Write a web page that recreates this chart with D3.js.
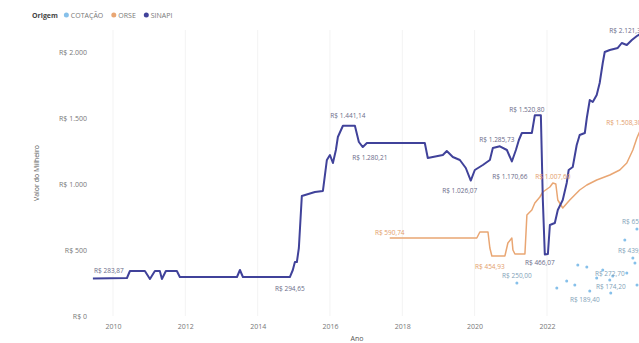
<!DOCTYPE html>
<html><head><meta charset="utf-8">
<script src="https://cdn.jsdelivr.net/npm/d3@7"></script>
<style>body{margin:0;background:#fff}svg{display:block;font-family:"Open Sans","Segoe UI",sans-serif}</style>
</head><body>
<svg id="c" width="639" height="343"></svg>
<script>
// ---------- DATA ----------
const seriesNames = ["COTAÇÃO", "ORSE", "SINAPI"];
const xTickYears = [2010, 2012, 2014, 2016, 2018, 2020, 2022];
const yTicks = [0, 500, 1000, 1500, 2000];

const sinapiDates = ["2009-06-12","2010-05-22","2010-06-21","2010-11-19","2011-01-09","2011-02-28","2011-04-19","2011-05-10","2011-06-19","2011-10-08","2011-11-07","2013-06-06","2013-07-06","2013-08-05","2014-11-22","2014-12-22","2015-01-12","2015-02-01","2015-02-21","2015-03-23","2015-08-02","2015-10-22","2015-12-01","2016-01-01","2016-01-31","2016-03-01","2016-03-21","2016-05-11","2016-09-09","2016-10-19","2016-11-28","2017-01-08","2018-08-16","2018-09-15","2019-02-14","2019-03-26","2019-05-26","2019-08-05","2019-10-04","2019-11-23","2020-01-03","2020-03-24","2020-06-03","2020-07-03","2020-09-12","2020-11-22","2021-01-11","2021-02-21","2021-03-23","2021-04-22","2021-08-01","2021-08-31","2021-10-31","2021-11-20","2021-12-10","2022-01-10","2022-01-30","2022-03-21","2022-04-20","2022-06-09","2022-07-19","2022-08-08","2022-09-18","2022-10-28","2022-11-27","2023-01-18","2023-02-07","2023-03-09","2023-04-08","2023-05-18","2023-06-17","2023-07-18","2023-08-07","2023-09-27","2023-12-17","2024-01-26","2024-03-17","2024-05-07","2024-06-27","2024-08-16"];
const sinapiValues = [283.87,287.9,340.9,340.9,280.3,340.9,340.9,280.3,340.9,340.9,295.5,295.5,348.5,295.5,294.65,348.5,409.1,409.1,515.2,909.1,939.4,947.0,1181.9,1219.7,1159.1,1257.6,1356.1,1441.14,1441.14,1318.2,1280.21,1310.6,1310.6,1197.0,1219.7,1250.0,1204.6,1181.9,1121.2,1026.07,1106.1,1143.9,1181.9,1272.8,1285.73,1257.6,1170.66,1257.6,1333.4,1386.4,1386.4,1520.80,1520.80,878.8,466.07,469.7,689.4,704.6,803.1,878.8,1007.6,1106.1,1128.8,1295.5,1371.3,1386.4,1500.0,1636.4,1621.3,1674.3,1765.2,1916.7,2000.1,2015.2,2030.4,2068.2,2053.1,2091.0,2121.3,2144.0];

const orseDates = ["2017-08-27","2020-01-23","2020-02-23","2020-05-15","2020-06-03","2020-06-23","2020-11-02","2020-12-02","2021-01-11","2021-01-22","2021-02-11","2021-05-23","2021-06-12","2021-08-01","2021-08-31","2021-10-21","2021-11-20","2022-01-30","2022-03-01","2022-03-31","2022-04-20","2022-06-09","2022-08-19","2022-11-27","2023-02-07","2023-05-18","2023-09-27","2024-01-06","2024-03-17","2024-05-17","2024-06-27","2024-09-26"];
const orseValues = [590.74,590.74,636.4,636.4,515.2,454.93,454.93,553.0,590.9,500.0,469.7,469.7,765.2,803.0,856.1,901.5,939.4,977.3,1007.6,1000.0,878.8,818.2,878.8,954.5,992.4,1030.3,1068.2,1106.1,1159.1,1257.6,1348.5,1508.3];

const cotacaoDates = ["2021-03-03","2022-04-10","2022-07-19","2022-10-09","2022-11-08","2023-02-07","2023-03-09","2023-05-18","2023-07-18","2023-09-27","2023-10-07","2023-10-27","2024-02-26","2024-03-17","2024-05-17","2024-06-07","2024-06-27","2024-06-28"];
const cotacaoValues = [250.0,212.1,265.2,234.8,386.4,371.2,189.4,287.9,348.5,272.7,174.2,303.0,575.8,325.8,439.4,401.5,659.1,234.8];

// data labels: which points carry a value label (and offset of the label)
const labelSpecs = [
  {s:"SINAPI", d:"2009-06-12", dx:16, dy:-8},
  {s:"SINAPI", d:"2014-11-22", dx:0, dy:11},
  {s:"SINAPI", d:"2016-05-11", dx:5, dy:-10},
  {s:"SINAPI", d:"2016-11-28", dx:7, dy:10},
  {s:"SINAPI", d:"2019-11-23", dx:-11, dy:10},
  {s:"SINAPI", d:"2020-09-12", dx:-3, dy:-7},
  {s:"SINAPI", d:"2021-01-11", dx:-2, dy:15},
  {s:"SINAPI", d:"2021-08-31", dx:-8, dy:-6},
  {s:"SINAPI", d:"2021-12-10", dx:-5, dy:8},
  {s:"SINAPI", d:"2024-06-27", dx:-10, dy:-5},
  {s:"ORSE", d:"2017-08-27", dx:0, dy:-6},
  {s:"ORSE", d:"2020-06-23", dx:-2, dy:11},
  {s:"ORSE", d:"2022-03-01", dx:0, dy:-6},
  {s:"ORSE", d:"2024-09-26", dx:-22, dy:6},
  {s:"COTAÇÃO", d:"2021-03-03", dx:0, dy:-8},
  {s:"COTAÇÃO", d:"2023-03-09", dx:-5, dy:9},
  {s:"COTAÇÃO", d:"2023-09-27", dx:0, dy:-7},
  {s:"COTAÇÃO", d:"2023-10-07", dx:0, dy:-7},
  {s:"COTAÇÃO", d:"2024-05-17", dx:0, dy:-7},
  {s:"COTAÇÃO", d:"2024-06-27", dx:0, dy:-7}
];

// ---------- CHART ----------
const colors = {"COTAÇÃO":"#86c0ea", "ORSE":"#e9a673", "SINAPI":"#40429a"};
const parse = d3.timeParse("%Y-%m-%d");
const ptBR = d3.formatLocale({decimal:",", thousands:".", grouping:[3], currency:["R$ ",""]});
const fmtLabel = ptBR.format("$,.2f");
const fmtAxis = ptBR.format("$,.0f");

const W = 639, H = 343;
const svg = d3.select("#c");
const x = d3.scaleTime().domain([new Date(2010,0,1), new Date(2022,0,1)]).range([113, 547]);
const y = d3.scaleLinear().domain([0, 2000]).range([316, 52]);

const mk = (dates, vals) => dates.map((d,i)=>({date:parse(d), value:vals[i], key:d}));
const series = {
  "SINAPI": mk(sinapiDates, sinapiValues),
  "ORSE": mk(orseDates, orseValues),
  "COTAÇÃO": mk(cotacaoDates, cotacaoValues)
};

svg.append("defs").append("clipPath").attr("id","clip")
  .append("rect").attr("x",88).attr("y",0).attr("width",W-88).attr("height",H);

// gridlines
svg.append("g").selectAll("line").data(xTickYears).join("line")
  .attr("x1", d=>x(new Date(d,0,1))).attr("x2", d=>x(new Date(d,0,1)))
  .attr("y1", 30).attr("y2", 316)
  .attr("stroke","#f3f3f3").attr("stroke-width",1);

// y axis
const yAxis = d3.axisLeft(y).tickValues(yTicks).tickFormat(fmtAxis).tickSize(0).tickPadding(0);
const gy = svg.append("g").attr("transform","translate(87,0)").call(yAxis);
gy.select(".domain").remove();
gy.selectAll("text").attr("fill","#777").style("font-size","7px").attr("font-family","Open Sans, sans-serif");

// x axis
const xAxis = d3.axisBottom(x).tickValues(xTickYears.map(d=>new Date(d,0,1))).tickFormat(d3.timeFormat("%Y")).tickSize(0).tickPadding(0);
const gx = svg.append("g").attr("transform","translate(0,324)").call(xAxis);
gx.select(".domain").remove();
gx.selectAll("text").attr("fill","#777").style("font-size","7px").attr("font-family","Open Sans, sans-serif");

// axis titles
svg.append("text").attr("x",357).attr("y",341).attr("text-anchor","middle")
  .attr("fill","#555").style("font-size","7px").text("Ano");
svg.append("text").attr("transform","translate(39,173) rotate(-90)").attr("text-anchor","middle")
  .attr("fill","#555").style("font-size","7px").text("Valor do Milheiro");

// lines
const plot = svg.append("g").attr("clip-path","url(#clip)");
const line = d3.line().x(d=>x(d.date)).y(d=>y(d.value));
plot.append("path").datum(series["ORSE"]).attr("d", line)
  .attr("fill","none").attr("stroke",colors["ORSE"]).attr("stroke-width",1.5).attr("stroke-linejoin","round");
plot.append("path").datum(series["SINAPI"]).attr("d", line)
  .attr("fill","none").attr("stroke",colors["SINAPI"]).attr("stroke-width",2).attr("stroke-linejoin","round");
plot.append("g").selectAll("circle").data(series["COTAÇÃO"]).join("circle")
  .attr("cx", d=>x(d.date)).attr("cy", d=>y(d.value)).attr("r",1.5)
  .attr("fill",colors["COTAÇÃO"]);

// data labels
const lbl = plot.append("g").style("font-size","6.5px");
labelSpecs.forEach(sp=>{
  const p = series[sp.s].find(d=>d.key===sp.d);
  if(!p) return;
  lbl.append("text")
    .attr("x", x(p.date)+sp.dx).attr("y", y(p.value)+sp.dy)
    .attr("text-anchor","middle").attr("dominant-baseline","central")
    .attr("fill", sp.s==="ORSE" ? "#e39d6a" : (sp.s==="COTAÇÃO" ? "#7f9fb8" : "#6a6b88"))
    .text(fmtLabel(p.value));
});

// legend
const lg = svg.append("g").attr("transform","translate(32,15)").style("font-size","7px");
const title = lg.append("text").attr("x",0).attr("y",0).attr("dominant-baseline","central")
  .attr("fill","#444").attr("font-weight","bold").text("Origem");
let lx = title.node().getComputedTextLength() + 6;
seriesNames.forEach(n=>{
  lg.append("circle").attr("cx", lx+2.5).attr("cy",0).attr("r",2.5).attr("fill",colors[n]);
  const t = lg.append("text").attr("x", lx+7).attr("y",0).attr("dominant-baseline","central")
    .attr("fill","#777").text(n);
  lx += 7 + t.node().getComputedTextLength() + 8;
});
</script>
</body></html>
